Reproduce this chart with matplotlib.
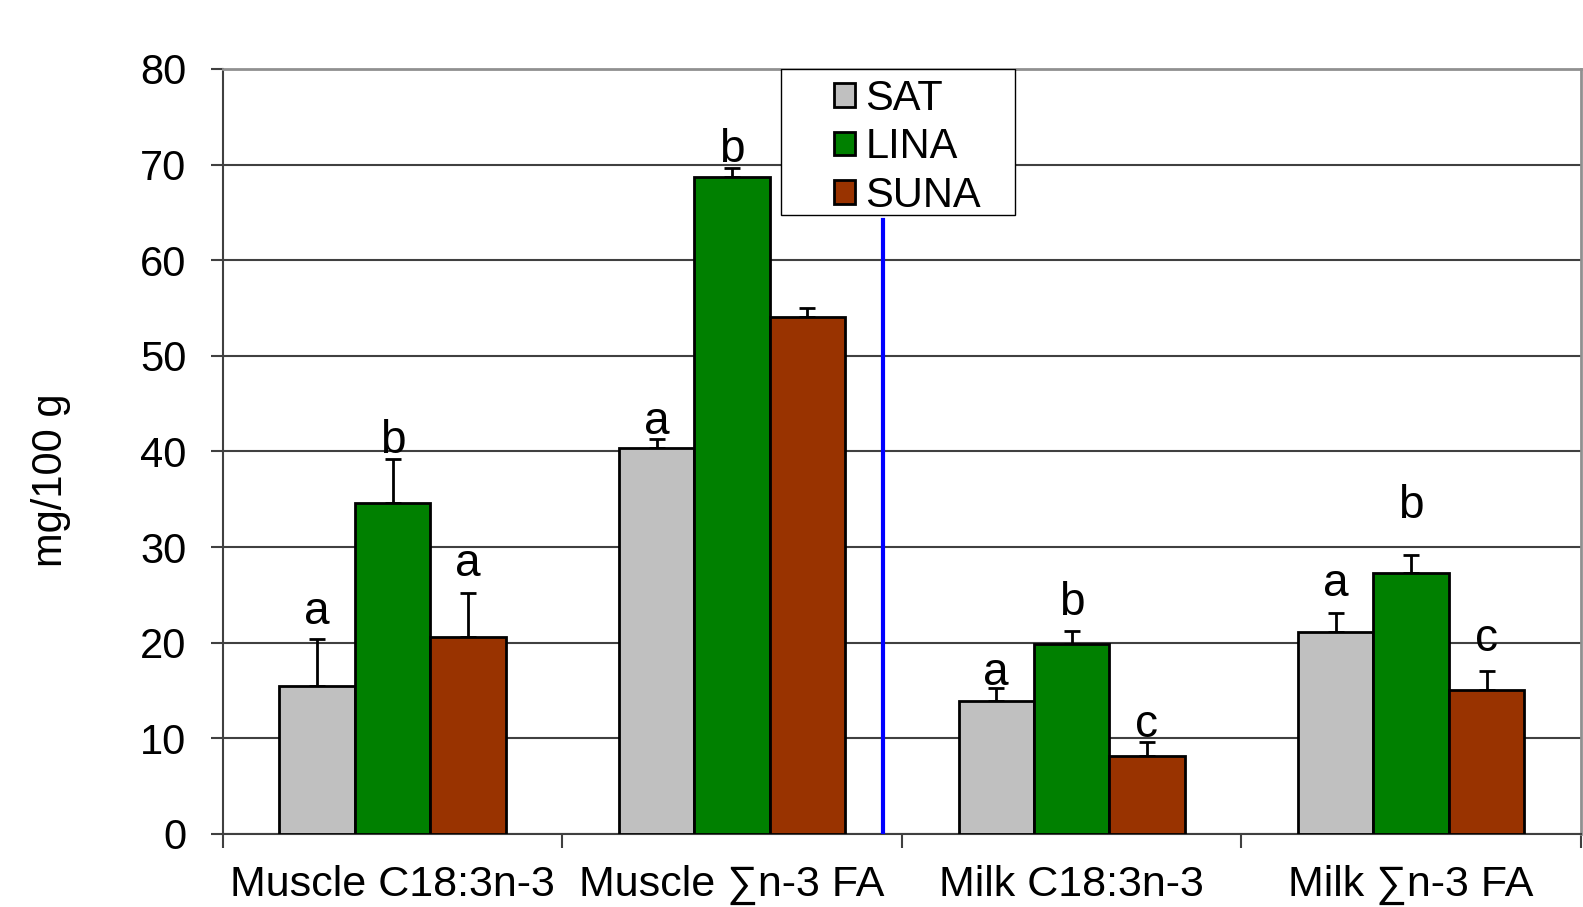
import matplotlib.pyplot as plt
from matplotlib.patches import Rectangle
import numpy as np

plt.rcParams['font.family'] = ['Liberation Sans', 'DejaVu Sans']

categories = ['Muscle C18:3n-3', 'Muscle \u2211n-3 FA', 'Milk C18:3n-3', 'Milk \u2211n-3 FA']
groups = ['SAT', 'LINA', 'SUNA']
colors = ['#C0C0C0', '#008000', '#993300']

# means and upper error bars (mg/100 g)
sat = [15.5, 40.4, 13.9, 21.1]
lina = [34.6, 68.7, 19.9, 27.3]
suna = [20.6, 54.1, 8.2, 15.1]
sat_err = [4.9, 0.9, 1.4, 2.0]
lina_err = [4.6, 0.9, 1.3, 1.9]
suna_err = [4.6, 0.9, 1.4, 1.9]

# significance letters and their baseline heights ('' = none)
letters = [['a', 'a', 'a', 'a'], ['b', 'b', 'b', 'b'], ['a', '', 'c', 'c']]
letter_y = [[22.0, 41.8, 15.6, 24.9], [39.8, 70.3, 22.9, 33.0], [27.0, 0, 10.1, 19.1]]

divider_x = 1.444
divider_top = 64.2

fig = plt.figure(figsize=(15.83, 9.07), dpi=100)
ax = fig.add_axes([0.1407, 0.0805, 0.858, 0.8435])

x = np.arange(len(categories))
w = 0.222
values = [sat, lina, suna]
errs = [sat_err, lina_err, suna_err]
for i, (vals, err, col, name) in enumerate(zip(values, errs, colors, groups)):
    pos = x + (i - 1) * w
    ax.bar(pos, vals, w, color=col, edgecolor='black', linewidth=2, label=name, zorder=3)
    ax.errorbar(pos, vals, yerr=[np.zeros(len(err)), err], fmt='none', ecolor='black',
                elinewidth=2, capsize=6, capthick=2, zorder=2)
    for p, t, ty in zip(pos, letters[i], letter_y[i]):
        if t:
            ax.text(p, ty, t, ha='center', va='baseline', fontsize=33, zorder=4)

ax.plot([divider_x, divider_x], [0, divider_top], color='#0000FF', linewidth=3, zorder=4)

ax.set_xlim(-0.5, 3.5)
ax.set_ylim(0, 80)
ax.set_yticks(range(0, 81, 10))
ax.yaxis.grid(True, color='#404040', linewidth=1.5, zorder=0)
ax.set_axisbelow(True)

ax.set_xticks(x)
ax.set_xticklabels(categories, fontsize=31)
ax.set_xticks(np.arange(-0.5, 4, 1), minor=True)
ax.tick_params(axis='x', which='major', length=0, pad=22)
ax.tick_params(axis='x', which='minor', length=10, width=1.5, color='#404040', direction='out')
ax.tick_params(axis='y', length=9, width=1.5, color='#404040', labelsize=30, pad=17)

ax.set_ylabel('mg/100 g', fontsize=30)
ax.yaxis.set_label_coords(-0.112, 0.463)

for s in ['left', 'bottom']:
    ax.spines[s].set_color('#404040')
    ax.spines[s].set_linewidth(1.5)
for s in ['top', 'right']:
    ax.spines[s].set_color('#909090')
    ax.spines[s].set_linewidth(2)

# legend frame drawn separately so the entries can sit inset like the original
ax.add_patch(Rectangle((0.411, 0.809), 0.172, 0.191, transform=ax.transAxes,
                       facecolor='white', edgecolor='black', linewidth=1, zorder=5))
leg = ax.legend(loc='upper left', bbox_to_anchor=(0.450, 0.987), fontsize=30, frameon=False,
                handlelength=0.5, handleheight=0.5, handletextpad=0.25, borderpad=0,
                labelspacing=0.2, borderaxespad=0)
leg.set_zorder(6)

fig.savefig('out.png', dpi=100)
